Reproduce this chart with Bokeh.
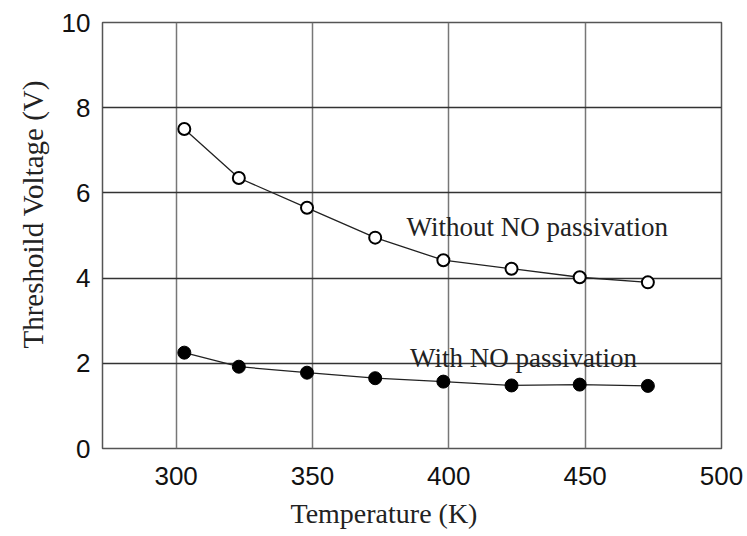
from bokeh.plotting import figure
from bokeh.models import Range1d, FixedTicker, Label, Title
from bokeh.embed import file_html
from bokeh.resources import INLINE

temperature = [303, 323, 348, 373, 398, 423, 448, 473]
without_no = [7.5, 6.35, 5.65, 4.95, 4.42, 4.22, 4.02, 3.9]
with_no = [2.25, 1.92, 1.78, 1.65, 1.57, 1.48, 1.5, 1.47]
x_ticks = [300, 350, 400, 450, 500]
y_ticks = [0, 2, 4, 6, 8, 10]

p = figure(width=747, height=536, output_backend="svg", toolbar_location=None,
           x_range=Range1d(273, 500), y_range=Range1d(0, 10),
           min_border_left=102, min_border_right=26, min_border_top=22, min_border_bottom=86)
p.background_fill_color = "white"
p.border_fill_color = "white"
p.outline_line_color = "#555555"
p.outline_line_width = 1.5

p.xaxis.ticker = FixedTicker(ticks=x_ticks)
p.yaxis.ticker = FixedTicker(ticks=y_ticks)
for ax in (p.xaxis[0], p.yaxis[0]):
    ax.axis_line_color = None
    ax.major_tick_line_color = None
    ax.minor_tick_line_color = None
    ax.major_tick_out = 0
    ax.major_tick_in = 0
    ax.minor_tick_out = 0
    ax.major_label_text_font = "Liberation Sans"
    ax.major_label_text_font_size = "26px"
    ax.major_label_text_color = "#111111"
p.xaxis.major_label_standoff = 18
p.yaxis.major_label_standoff = 12

p.xgrid.grid_line_color = "#777777"
p.xgrid.grid_line_width = 1.5
p.ygrid.grid_line_color = "#333333"
p.ygrid.grid_line_width = 1.5

p.line(temperature, without_no, line_color="#222222", line_width=1.3)
p.scatter(temperature, without_no, size=12, marker="circle", fill_color="white",
          line_color="black", line_width=2)
p.line(temperature, with_no, line_color="#222222", line_width=1.3)
p.scatter(temperature, with_no, size=13, marker="circle", fill_color="black",
          line_color="black", line_width=1)

serif = "Liberation Serif"
p.add_layout(Label(x=384.5, y=5.19, text="Without NO passivation", text_font=serif,
                   text_font_size="27px", text_color="#222222", text_baseline="alphabetic"))
p.add_layout(Label(x=385.8, y=2.13, text="With NO passivation", text_font=serif,
                   text_font_size="27px", text_color="#222222", text_baseline="alphabetic"))

# axis titles as side titles so they can be shifted like in the reference
xt = Title(text="Temperature (K)", align="left", offset=188, text_font=serif,
           text_font_size="28px", text_font_style="normal", text_color="#222222",
           standoff=16, vertical_align="bottom")
p.add_layout(xt, "below")
yt = Title(text="Threshoild Voltage (V)", align="left", offset=100, text_font=serif,
           text_font_size="29px", text_font_style="normal", text_color="#222222",
           standoff=16, vertical_align="top")
p.add_layout(yt, "left")

open("out.html", "w").write(file_html(p, INLINE))
